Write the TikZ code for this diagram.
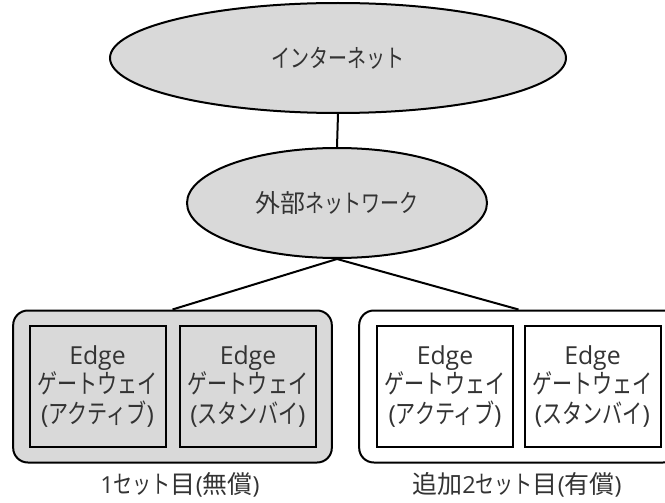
\documentclass[tikz,border=0pt]{standalone}
\usepackage{fontspec}
\setmainfont{Open Sans}
\newfontfamily\kanafont{Noto Sans CJK JP}[Scale=1.065,FakeStretch=0.76]
\newfontfamily\kanjifont{Noto Sans CJK JP}[Scale=1.065]
\newcommand\kn[1]{{\kanafont #1}}
\newcommand\kj[1]{{\kanjifont #1}}
\usetikzlibrary{shapes.geometric}
\definecolor{fillgray}{HTML}{D9D9D9}
\definecolor{txt}{HTML}{333333}
\begin{document}
\begin{tikzpicture}[x=0.75pt,y=-0.75pt,
  line width=1.5pt,
  cloud/.style={ellipse,draw=black,fill=fillgray,inner sep=0pt,text=txt,font=\fontsize{17.6}{22}\selectfont},
  gw/.style={draw=black,minimum width=102pt,minimum height=90.5pt,inner sep=0pt,text=txt,align=center,font=\fontsize{18.6}{22.2}\selectfont},
  grp/.style={draw=black,rounded corners=11pt,inner sep=0pt,minimum width=239pt,minimum height=114pt},
  captext/.style={text=txt,font=\fontsize{17.6}{22}\selectfont}]
\useasboundingbox (0,0) rectangle (665,503);
\node[cloud,minimum width=342pt,minimum height=82.5pt] (inet) at (338,58) {\kn{インターネット}};
\node[cloud,minimum width=225pt,minimum height=82.5pt] (ext) at (337,203) {\kj{外部}\kn{ネットワーク}};
\node[grp,fill=fillgray] (g1) at (172.5,386.5) {};
\node[grp,fill=white] (g2) at (518.5,386.5) {};
\node[gw,fill=fillgray] (a1) at (97.5,386.5) {Edge\\\kn{ゲートウェイ}\\(\kn{アクティブ})};
\node[gw,fill=fillgray] (s1) at (248,386.5) {Edge\\\kn{ゲートウェイ}\\(\kn{スタンバイ})};
\node[gw,fill=white] (a2) at (445,386.5) {Edge\\\kn{ゲートウェイ}\\(\kn{アクティブ})};
\node[gw,fill=white] (s2) at (592.5,386.5) {Edge\\\kn{ゲートウェイ}\\(\kn{スタンバイ})};
\node[captext] (c1) at (180,485) {1\kn{セット}\kj{目}(\kj{無償})};
\node[captext] (c2) at (517,485) {\kj{追加}2\kn{セット}\kj{目}(\kj{有償})};
\draw (inet.south) -- (ext.north);
\draw (ext.south) -- (g1.north);
\draw (ext.south) -- (g2.north);
\end{tikzpicture}
\end{document}
